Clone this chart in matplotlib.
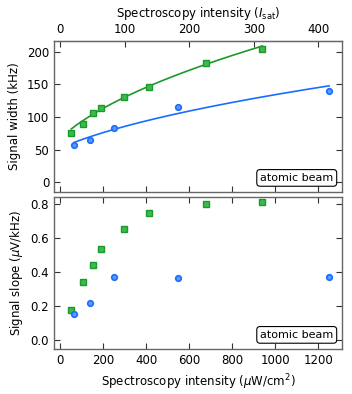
import matplotlib
matplotlib.use("Agg")
import matplotlib.pyplot as plt
import numpy as np

# intensities in uW/cm^2
green_x = [52.6, 105, 152, 191, 296, 412, 679, 940]
blue_x = [66.7, 138, 251, 547, 1250]

# signal width (kHz)
green_width = [75.5, 90, 105.5, 114, 130.5, 146, 183, 205]
green_width_err = [4, 2, 2, 2, 2, 2, 2, 2]
blue_width = [57, 64, 83, 116, 140]
blue_width_err = [3, 2, 2, 4, 4]

# signal slope (uV/kHz)
green_slope = [0.176, 0.342, 0.442, 0.534, 0.652, 0.749, 0.798, 0.808]
blue_slope = [0.157, 0.222, 0.373, 0.366, 0.373]

# fit: width = sqrt(A + B*I)
green_fit = [4500, 41.6]
blue_fit = [2725, 15.3]

ISAT = 3.0  # uW/cm^2

GREEN = "#1a9a2a"
GREEN_FILL = "#3fb94f"
BLUE = "#1a6dff"
BLUE_FILL = "#5c9aff"
SPINE = "#666666"

plt.rcParams["font.size"] = 8.5
plt.rcParams["font.family"] = "DejaVu Sans"

fig = plt.figure(figsize=(3.52, 3.94), dpi=100)
ax1 = fig.add_axes([0.1534, 0.5127, 0.8182, 0.384])
ax2 = fig.add_axes([0.1534, 0.1142, 0.8182, 0.3858], sharex=ax1)


def style_axes(ax):
    for s in ax.spines.values():
        s.set_color(SPINE)
        s.set_linewidth(1.0)
    ax.tick_params(direction="in", top=True, right=True, length=4,
                   width=0.8, color="#333333")


def boxed_label(ax):
    ax.text(0.97, 0.06, "atomic beam", transform=ax.transAxes,
            ha="right", va="bottom", fontsize=8,
            bbox=dict(boxstyle="round,pad=0.3", fc="white", ec="black", lw=0.8))


# top panel
for x, fit, col in [(green_x, green_fit, GREEN), (blue_x, blue_fit, BLUE)]:
    xf = np.linspace(min(x), max(x), 200)
    ax1.plot(xf, np.sqrt(fit[0] + fit[1] * xf), color=col, lw=1.2, zorder=2)

ax1.errorbar(green_x, green_width, yerr=green_width_err, fmt="s", ms=4,
             mfc=GREEN_FILL, mec=GREEN, mew=1.0, ecolor=GREEN, elinewidth=1,
             capsize=0, zorder=3)
ax1.errorbar(blue_x, blue_width, yerr=blue_width_err, fmt="o", ms=4,
             mfc=BLUE_FILL, mec=BLUE, mew=1.2, ecolor=BLUE, elinewidth=1,
             capsize=0, zorder=3)

ax1.set_xlim(-28, 1310)
ax1.set_ylim(-15, 217)
ax1.set_yticks([0, 50, 100, 150, 200])
ax1.set_ylabel("Signal width (kHz)")
style_axes(ax1)
ax1.tick_params(labelbottom=False, top=False)
boxed_label(ax1)

sec = ax1.secondary_xaxis("top", functions=(lambda v: v / ISAT, lambda v: v * ISAT))
sec.set_xticks([0, 100, 200, 300, 400])
sec.tick_params(direction="in", length=4, width=0.8, color="#333333")
sec.spines["top"].set_color(SPINE)
sec.set_xlabel(r"Spectroscopy intensity ($I_\mathrm{sat}$)", labelpad=4)

# bottom panel
ax2.plot(green_x, green_slope, "s", ms=4, mfc=GREEN_FILL, mec=GREEN,
         mew=1.0, zorder=3)
ax2.plot(blue_x, blue_slope, "o", ms=4, mfc=BLUE_FILL, mec=BLUE,
         mew=1.2, zorder=3)
ax2.set_ylim(-0.05, 0.84)
ax2.set_yticks([0.0, 0.2, 0.4, 0.6, 0.8])
ax2.set_xticks([0, 200, 400, 600, 800, 1000, 1200])
ax2.set_ylabel(r"Signal slope ($\mu$V/kHz)")
ax2.set_xlabel(r"Spectroscopy intensity ($\mu$W/cm$^2$)")
style_axes(ax2)
boxed_label(ax2)

fig.savefig("out.png", dpi=100)
